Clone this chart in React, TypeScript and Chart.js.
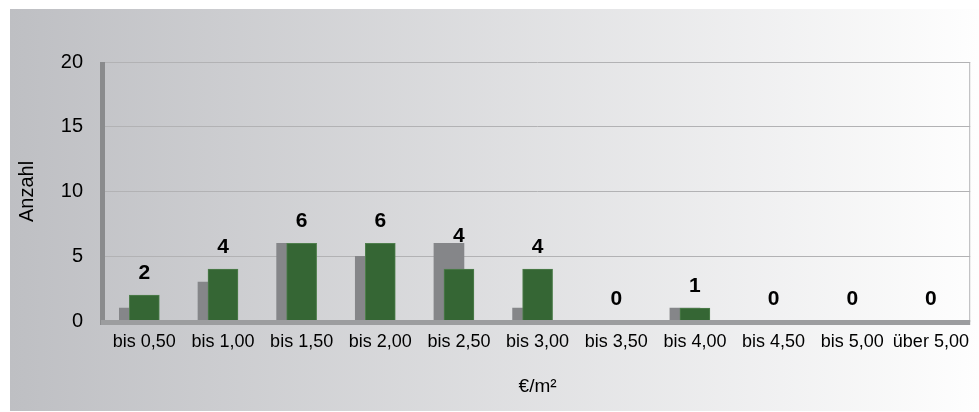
import React, { useEffect, useRef } from "react";
import { Chart, registerables } from "chart.js";

Chart.register(...registerables);

const categories = [
  "bis 0,50",
  "bis 1,00",
  "bis 1,50",
  "bis 2,00",
  "bis 2,50",
  "bis 3,00",
  "bis 3,50",
  "bis 4,00",
  "bis 4,50",
  "bis 5,00",
  "über 5,00",
];
const backSeries = [1, 3, 6, 5, 6, 1, 0, 1, 0, 0, 0];
const frontSeries = [2, 4, 6, 6, 4, 4, 0, 1, 0, 0, 0];
const yTicks = [0, 5, 10, 15, 20];
const yTitle = "Anzahl";
const xTitle = "€/m²";

const FONT = "'Liberation Sans', Arial, sans-serif";

const decorPlugin = {
  id: "decor",
  beforeDraw(chart: any) {
    const { ctx, width, height } = chart;
    ctx.save();
    ctx.fillStyle = "#ffffff";
    ctx.fillRect(0, 0, width, height);
    const g = ctx.createLinearGradient(10, 0, width, 0);
    g.addColorStop(0, "rgb(190,191,195)");
    g.addColorStop(1, "rgb(254,254,254)");
    ctx.fillStyle = g;
    ctx.fillRect(10, 9, width - 10, 402);
    ctx.restore();
  },
  beforeDatasetsDraw(chart: any) {
    const { ctx, chartArea } = chart;
    ctx.save();
    // right border of plot
    ctx.strokeStyle = "#b4b4b6";
    ctx.lineWidth = 1;
    ctx.beginPath();
    ctx.moveTo(chartArea.right - 0.5, chartArea.top);
    ctx.lineTo(chartArea.right - 0.5, chartArea.bottom);
    ctx.stroke();
    // left wall
    ctx.fillStyle = "#8a8b8d";
    ctx.fillRect(chartArea.left - 5, chartArea.top, 5, chartArea.bottom - chartArea.top + 4);
    ctx.restore();
  },
  beforeDatasetDraw(chart: any, args: any) {
    if (args.index === 1) {
      chart.ctx.save();
      chart.ctx.translate(-10, 0);
    }
  },
  afterDatasetDraw(chart: any, args: any) {
    if (args.index === 1) {
      chart.ctx.restore();
    }
  },
  afterDatasetsDraw(chart: any) {
    const { ctx, chartArea, scales } = chart;
    ctx.save();
    // floor
    ctx.fillStyle = "#9c9d9f";
    ctx.fillRect(chartArea.left - 4, chartArea.bottom - 1, chartArea.right - chartArea.left + 4, 5);
    // labels
    const meta = chart.getDatasetMeta(0);
    const fs = 21;
    ctx.font = `bold ${fs}px ${FONT}`;
    ctx.fillStyle = "#000000";
    ctx.textAlign = "center";
    ctx.textBaseline = "alphabetic";
    frontSeries.forEach((v, i) => {
      const bar = meta.data[i];
      const yFront = scales.y.getPixelForValue(v) - 24;
      const yBack = scales.y.getPixelForValue(backSeries[i]) - 9;
      const cy = Math.min(yFront, yBack);
      ctx.fillText(String(v), bar.x, cy + 0.358 * fs);
    });
    ctx.restore();
  },
};

export default function App() {
  const ref = useRef<HTMLCanvasElement | null>(null);

  useEffect(() => {
    if (!ref.current) return;
    const chart = new Chart(ref.current, {
      type: "bar",
      data: {
        labels: categories,
        datasets: [
          {
            label: "front",
            data: frontSeries,
            backgroundColor: "#356634",
            borderColor: "#4f7f4d",
            borderWidth: 1,
            barThickness: 30,
            grouped: false,
            order: 1,
          } as any,
          {
            label: "back",
            data: backSeries,
            backgroundColor: "#858689",
            borderWidth: 0,
            barThickness: 30,
            grouped: false,
            order: 2,
          } as any,
        ],
      },
      options: {
        animation: false,
        responsive: false,
        devicePixelRatio: 1,
        layout: { padding: { left: 0, right: 2, top: 62, bottom: 0 } },
        plugins: {
          legend: { display: false },
          tooltip: { enabled: false },
        },
        scales: {
          x: {
            grid: { display: false, drawTicks: false },
            border: { display: false },
            ticks: {
              color: "#000000",
              font: { family: FONT, size: 18 },
              padding: 10,
              maxRotation: 0,
              autoSkip: false,
            },
            title: {
              display: true,
              text: xTitle,
              color: "#000000",
              font: { family: FONT, size: 19 },
              padding: { top: 0, bottom: 14 },
            },
            afterFit(scale: any) {
              scale.height = 91;
            },
          },
          y: {
            min: 0,
            max: 20,
            afterBuildTicks(scale: any) {
              scale.ticks = yTicks.map((v) => ({ value: v }));
            },
            grid: { color: "#b2b2b4", lineWidth: 1, drawTicks: false },
            border: { display: false },
            ticks: {
              color: "#000000",
              font: { family: FONT, size: 20 },
              padding: 22,
            },
            title: {
              display: true,
              text: yTitle,
              color: "#000000",
              font: { family: FONT, size: 20 },
              padding: { top: 15, bottom: 0 },
            },
            afterFit(scale: any) {
              scale.width = 105;
            },
          },
        },
      },
      plugins: [decorPlugin],
    });
    return () => chart.destroy();
  }, []);

  return (
    <div style={{ position: "absolute", left: 0, top: 0, width: 979, height: 412 }}>
      <canvas ref={ref} width={979} height={412} style={{ display: "block" }} />
    </div>
  );
}
